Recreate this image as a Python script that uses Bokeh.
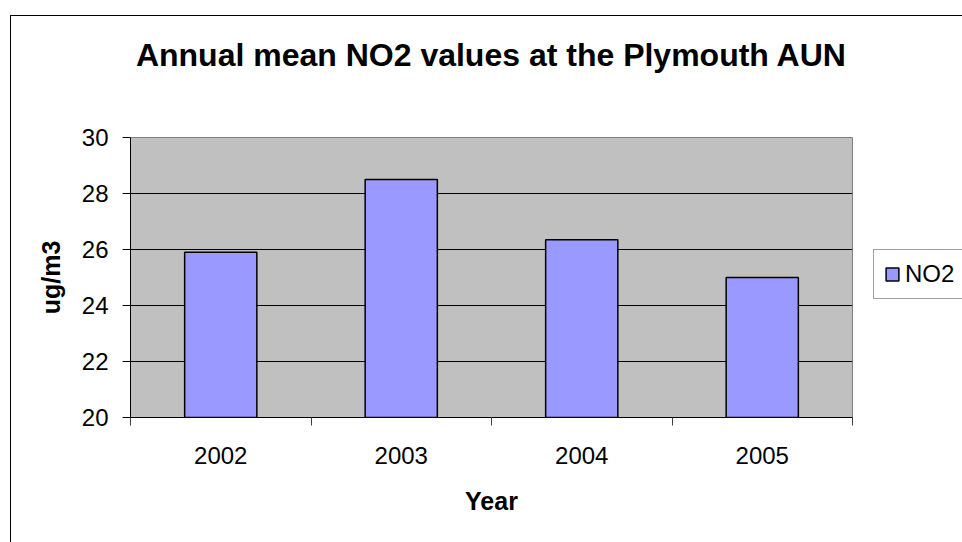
from bokeh.plotting import figure
from bokeh.models import (Range1d, FixedTicker, Legend, LegendItem, Title)
from bokeh.embed import file_html
from bokeh.resources import INLINE

years = ["2002", "2003", "2004", "2005"]
no2 = [25.9, 28.5, 26.35, 25.0]
y_ticks = [20, 22, 24, 26, 28, 30]

FONT = "Liberation Sans"

p = figure(output_backend="svg", toolbar_location=None,
           frame_width=722, frame_height=280,
           min_border_left=130, min_border_top=137,
           min_border_right=110, min_border_bottom=125,
           x_range=Range1d(0, len(years)), y_range=Range1d(y_ticks[0], y_ticks[-1]),
           background_fill_color="#C0C0C0", border_fill_color="white",
           border_fill_alpha=0,
           outline_line_color="#808080", outline_line_width=1)

# outer chart border (left and top edges visible)
p.styles = {
    "background-color": "white",
    "background-image": "linear-gradient(#000,#000), linear-gradient(#000,#000)",
    "background-size": "1px 100%, 100% 1px",
    "background-position": "10px 15px, 10px 15px",
    "background-repeat": "no-repeat",
}

spacer = Title(text=" ", text_font_size="1px", standoff=62)
t = Title(text="Annual mean NO2 values at the Plymouth AUN", align="center",
          text_font=FONT, text_font_size="32px", text_font_style="bold",
          text_color="black", standoff=0)
p.add_layout(spacer, "above")
p.add_layout(t, "above")

xs = [i + 0.5 for i in range(len(years))]
bars = p.vbar(x=xs, top=no2, bottom=y_ticks[0], width=0.4,
              fill_color="#9999FF", line_color="black", line_width=1.5)

# x axis: labels at centres, tick marks at category boundaries
xa = p.xaxis[0]
xa.ticker = FixedTicker(ticks=xs, minor_ticks=list(range(len(years) + 1)))
xa.major_label_overrides = {x: y for x, y in zip(xs, years)}
xa.major_tick_out = 0
xa.major_tick_in = 0
xa.minor_tick_out = 8
xa.minor_tick_in = 0
xa.minor_tick_line_color = "#404040"
xa.axis_line_color = "black"
xa.major_label_text_font = FONT
xa.major_label_text_font_size = "24px"
xa.major_label_text_color = "black"
xa.major_label_standoff = 21
xa.axis_label = "Year"
xa.axis_label_text_font = FONT
xa.axis_label_text_font_size = "25px"
xa.axis_label_text_font_style = "bold"
xa.axis_label_text_color = "black"
xa.axis_label_standoff = 20

ya = p.yaxis[0]
ya.ticker = FixedTicker(ticks=y_ticks, minor_ticks=[])
ya.major_tick_out = 8
ya.major_tick_in = 0
ya.major_tick_line_color = "black"
ya.axis_line_color = "black"
ya.major_label_text_font = FONT
ya.major_label_text_font_size = "24px"
ya.major_label_text_color = "black"
ya.major_label_standoff = 14
ya.axis_label = "ug/m3"
ya.axis_label_text_font = FONT
ya.axis_label_text_font_size = "25px"
ya.axis_label_text_font_style = "bold"
ya.axis_label_text_color = "black"
ya.axis_label_standoff = 14

p.xgrid.visible = False
p.ygrid.ticker = FixedTicker(ticks=y_ticks[1:-1], minor_ticks=[])
p.ygrid.grid_line_color = "black"
p.ygrid.grid_line_width = 1

legend = Legend(items=[LegendItem(label="NO2", renderers=[bars])],
                location=(21, 118), orientation="vertical",
                label_text_font=FONT, label_text_font_size="24px",
                label_text_color="black",
                glyph_width=16, glyph_height=16, label_standoff=5,
                padding=10, margin=0,
                border_line_color="#404040", border_line_width=1,
                background_fill_color="white", background_fill_alpha=1)
p.add_layout(legend, "right")

open("out.html", "w").write(file_html(p, INLINE))
